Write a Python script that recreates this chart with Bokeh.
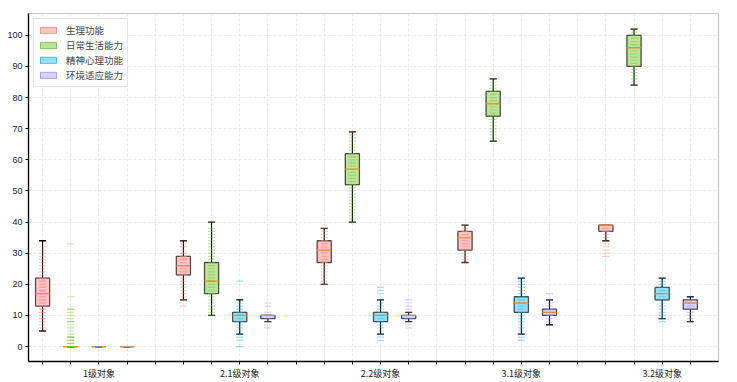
import pandas as pd
from bokeh.plotting import figure
from bokeh.models import ColumnDataSource, FixedTicker, Legend, LegendItem
from bokeh.embed import file_html
from bokeh.resources import INLINE

groups = ["1级对象", "2.1级对象", "2.2级对象", "3.1级对象", "3.2级对象"]
series = ["生理功能", "日常生活能力", "精神心理功能", "环境适应能力"]

# box statistics per series (one value per group): lower whisker, Q1, median, Q3, upper whisker
red_lo = [5, 15, 20, 27, 34]
red_q1 = [13, 23, 27, 31, 37]
red_med = [17, 26, 31, 35, 39]
red_q3 = [22, 29, 34, 37, 39]
red_hi = [34, 34, 38, 39, 39]

green_lo = [0, 10, 40, 66, 84]
green_q1 = [0, 17, 52, 74, 90]
green_med = [0, 21, 57, 78, 96]
green_q3 = [0, 27, 62, 82, 100]
green_hi = [0, 40, 69, 86, 102]

cyan_lo = [0, 4, 4, 4, 9]
cyan_q1 = [0, 8, 8, 11, 15]
cyan_med = [0, 10, 10, 14, 17]
cyan_q3 = [0, 11, 11, 16, 19]
cyan_hi = [0, 15, 15, 22, 22]

purple_lo = [0, 8, 8, 7, 8]
purple_q1 = [0, 9, 9, 10, 12]
purple_med = [0, 10, 10, 11, 14]
purple_q3 = [0, 10, 10, 12, 15]
purple_hi = [0, 10, 11, 15, 16]

# individual observations (per group)
red_pts = [
    [5, 6, 7, 8, 9, 9, 10, 11, 11, 12, 12, 13, 13, 14, 14, 15, 15, 16, 16, 17, 17, 18, 18, 19, 19, 20, 20, 21, 21, 22, 22, 23, 24, 25, 26, 27, 28, 29, 30, 31, 32],
    [13, 15, 16, 17, 18, 19, 20, 21, 22, 23, 23, 24, 24, 25, 25, 26, 26, 27, 27, 28, 28, 29, 29, 30, 30, 31, 32, 33, 34],
    [20, 21, 22, 23, 24, 25, 26, 27, 27, 28, 28, 29, 29, 30, 30, 31, 31, 32, 32, 33, 33, 34, 34, 35, 36, 37, 38],
    [27, 28, 29, 30, 31, 31, 32, 33, 33, 34, 34, 35, 35, 36, 36, 37, 37, 38, 39],
    [29, 30, 31, 32, 33, 34, 35, 36, 37, 37, 38, 38, 39, 39, 39],
]
green_pts = [
    [0, 0, 0, 0, 1, 1, 2, 2, 3, 3, 3, 4, 5, 6, 7, 8, 8, 9, 10, 11, 12, 12, 16, 33],
    [10, 11, 12, 13, 14, 15, 16, 17, 17, 18, 19, 20, 21, 21, 22, 23, 24, 25, 26, 27, 28, 29, 30, 31, 32, 33, 34, 35, 36, 37, 38, 40],
    [40, 41, 42, 43, 44, 45, 46, 47, 48, 49, 50, 51, 52, 53, 54, 55, 56, 57, 58, 59, 60, 61, 62, 63, 64, 65, 66, 67, 68, 69],
    [66, 67, 68, 69, 70, 71, 72, 73, 74, 75, 76, 77, 78, 79, 80, 81, 82, 83, 84, 85, 86],
    [84, 85, 86, 87, 88, 89, 90, 91, 92, 93, 94, 95, 96, 97, 98, 99, 100, 101, 102],
]
cyan_pts = [
    [0, 0, 0],
    [0, 2, 3, 4, 5, 6, 7, 8, 9, 10, 10, 11, 12, 13, 14, 21],
    [2, 3, 4, 5, 6, 7, 8, 9, 10, 11, 12, 13, 14, 15, 17, 18, 19],
    [2, 3, 4, 5, 6, 7, 8, 9, 10, 11, 12, 13, 14, 15, 16, 17, 18, 19, 20, 21, 22],
    [8, 9, 10, 11, 12, 13, 14, 15, 16, 17, 18, 19, 20, 21, 22],
]
purple_pts = [
    [0, 0],
    [6, 7, 8, 9, 10, 11, 13, 14],
    [6, 7, 8, 9, 10, 11, 12, 13, 14, 15],
    [7, 8, 9, 10, 11, 12, 13, 14, 15, 17],
    [8, 9, 10, 11, 12, 13, 14, 15, 16],
]

stats = [
    (red_lo, red_q1, red_med, red_q3, red_hi, red_pts),
    (green_lo, green_q1, green_med, green_q3, green_hi, green_pts),
    (cyan_lo, cyan_q1, cyan_med, cyan_q3, cyan_hi, cyan_pts),
    (purple_lo, purple_q1, purple_med, purple_q3, purple_hi, purple_pts),
]
box_fill = ["#ffc4c2", "#bde39b", "#97dff4", "#d8cffa"]
legend_edge = ["#e89a98", "#8cc064", "#4fb9da", "#a99be8"]
pt_color = ["#f08a88", "#6dbd2c", "#1eaedb", "#9e8df0"]

BOX_W = 0.5
CAP_W = 0.25
GROUP_STEP = 5

p = figure(width=737, height=382, x_range=(-0.5, 24), y_range=(-4.8, 107),
           output_backend="svg", toolbar_location=None,
           min_border_left=28, min_border_right=19, min_border_top=13, min_border_bottom=20)
p.background_fill_color = "white"
p.outline_line_color = "#c8c8c8"
p.outline_line_width = 1.2

legend_items = []
for s, (lo, q1, med, q3, hi, pts) in enumerate(stats):
    pos = [GROUP_STEP * g + s for g in range(len(groups))]
    df = pd.DataFrame(dict(x=pos, lo=lo, q1=q1, med=med, q3=q3, hi=hi))
    df["xl"] = df.x - CAP_W / 2
    df["xr"] = df.x + CAP_W / 2
    df["bl"] = df.x - BOX_W / 2
    df["br"] = df.x + BOX_W / 2
    src = ColumnDataSource(df)
    # legend swatch renderer (hidden underneath the box itself)
    r_leg = p.vbar(x="x", width=BOX_W, top="q3", bottom="q1", source=src,
                   fill_color=box_fill[s], line_color=legend_edge[s], line_width=1)
    legend_items.append(LegendItem(label=series[s], renderers=[r_leg]))
    p.vbar(x="x", width=BOX_W, top="q3", bottom="q1", source=src,
           fill_color=box_fill[s], line_color="#333333", line_alpha=0.8, line_width=1.3)
    p.segment(x0="x", y0="q3", x1="x", y1="hi", source=src, line_color="black", line_width=1.1)
    p.segment(x0="x", y0="q1", x1="x", y1="lo", source=src, line_color="black", line_width=1.1)
    p.segment(x0="xl", y0="hi", x1="xr", y1="hi", source=src, line_color="black", line_width=1.3)
    p.segment(x0="xl", y0="lo", x1="xr", y1="lo", source=src, line_color="black", line_width=1.3)
    p.segment(x0="bl", y0="med", x1="br", y1="med", source=src, line_color="#ff8c1a", line_width=1.3)

    pdf = pd.DataFrame(dict(x=pos, y=pts)).explode("y")
    p.scatter(x="x", y="y", source=ColumnDataSource(pdf), marker="dash", size=7,
              line_color=pt_color[s], line_alpha=0.4, line_width=1.2)

legend = Legend(items=legend_items, location="top_left")
legend.margin = 5
legend.padding = 4
legend.spacing = 1
legend.glyph_width = 20
legend.glyph_height = 8
legend.label_height = 12
legend.label_standoff = 8
legend.label_text_font = "Noto Sans CJK SC"
legend.label_text_font_size = "9.5px"
legend.border_line_color = "#cccccc"
legend.background_fill_alpha = 0.9
p.add_layout(legend)

xt = list(range(0, 24))
p.xaxis.ticker = FixedTicker(ticks=xt)
overrides = {t: "" for t in xt}
for g, name in enumerate(groups):
    overrides[GROUP_STEP * g + 2] = name
p.xaxis.major_label_overrides = overrides
p.yaxis.ticker = FixedTicker(ticks=[0, 10, 20, 30, 40, 50, 60, 70, 80, 90, 100])

for ax in (p.xaxis[0], p.yaxis[0]):
    ax.axis_line_color = "black"
    ax.axis_line_width = 1.3
    ax.major_tick_line_color = "black"
    ax.major_tick_out = 3
    ax.major_tick_in = 0
    ax.minor_tick_line_color = None
    ax.major_label_text_font_size = "9px"
    ax.major_label_text_color = "#222222"
    ax.major_label_standoff = 3
p.xaxis.major_label_standoff = 2
p.xaxis.major_label_text_font = "Noto Sans CJK SC"
p.yaxis.major_label_text_font = "Liberation Sans"

for gr in (p.xgrid[0], p.ygrid[0]):
    gr.grid_line_color = "#e6e6e6"
    gr.grid_line_dash = "3 2"
    gr.grid_line_width = 0.8

open("out.html", "w").write(file_html(p, INLINE))
